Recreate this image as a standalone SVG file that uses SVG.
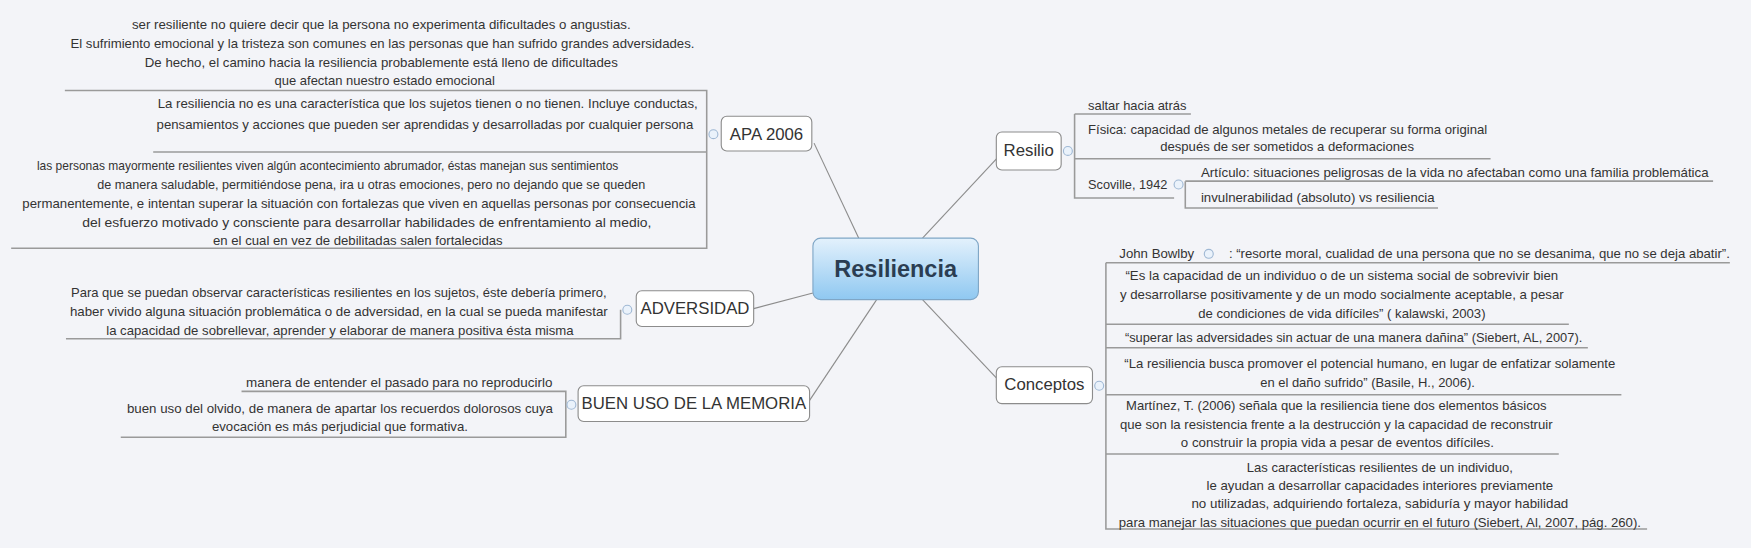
<svg xmlns="http://www.w3.org/2000/svg" width="1751" height="548" viewBox="0 0 1751 548">
<style>
.t{font-family:"Liberation Sans",Arial,sans-serif;font-size:12px;fill:#333;dominant-baseline:central}
.n{font-family:"Liberation Sans",Arial,sans-serif;font-size:15px;fill:#333;dominant-baseline:central;text-anchor:middle}
.ln{fill:none;stroke:#8c8c8c;stroke-width:1}
.br{fill:none;stroke:#9a9a9a;stroke-width:1.4}
.box{fill:#fff;stroke:#8c8c8c;stroke-width:1}
.c{fill:#eaf2fb;stroke:#9fb8d4;stroke-width:1}
</style>
<defs>
<linearGradient id="g" x1="0" y1="0" x2="0" y2="1"><stop offset="0" stop-color="#e3f1fc"/><stop offset="1" stop-color="#8fc8f1"/></linearGradient>
</defs>
<rect width="1751" height="548" fill="#f3f4f8"/>
<g transform="scale(1.1182)">
<g id="connectors">
<line class="ln" x1="768" y1="213" x2="728" y2="128"/>
<line class="ln" x1="727" y1="262" x2="674" y2="276"/>
<line class="ln" x1="784" y1="268" x2="724" y2="358"/>
<line class="ln" x1="825" y1="213" x2="893" y2="140"/>
<line class="ln" x1="825" y1="268" x2="891" y2="338"/>
<path class="br" d="M58 81H632V222H10M137 136H632"/>
<path class="br" d="M59 303H555V277"/>
<path class="br" d="M216 350H506V391H108"/>
<path class="br" d="M961 102H1065M961 102V177H1050M961 142H1333"/>
<path class="br" d="M1060 162H1532M1060 162V186H1286"/>
<path class="br" d="M989 235H1547M989 235V473H1473M989 290H1403M989 311H1420M989 353H1450M989 406H1394"/>
<circle class="c" cx="638" cy="120" r="4"/><circle class="c" cx="561" cy="277" r="4"/><circle class="c" cx="511" cy="362" r="4"/>
<circle class="c" cx="955" cy="135" r="4"/><circle class="c" cx="1054" cy="165" r="4"/><circle class="c" cx="983" cy="345" r="4"/><circle class="c" cx="1081" cy="227" r="4"/>
</g>
<g id="central"><rect x="727" y="213" width="148" height="55" rx="7" fill="url(#g)" stroke="#7fa6c6"/><text x="801" y="241" class="n" style="font-size:21px;font-weight:bold;fill:#2b3d52">Resiliencia</text></g>
<g id="apa"><rect class="box" x="645" y="104" width="81" height="31" rx="5"/><text class="n" x="685.5" y="120">APA 2006</text>
<text class="t" text-anchor="middle" x="341" y="22" textLength="446" lengthAdjust="spacingAndGlyphs">ser resiliente no quiere decir que la persona no experimenta dificultades o angustias.</text>
<text class="t" text-anchor="middle" x="342" y="39" textLength="558" lengthAdjust="spacingAndGlyphs">El sufrimiento emocional y la tristeza son comunes en las personas que han sufrido grandes adversidades.</text>
<text class="t" text-anchor="middle" x="341" y="56" textLength="423" lengthAdjust="spacingAndGlyphs">De hecho, el camino hacia la resiliencia probablemente está lleno de dificultades</text>
<text class="t" text-anchor="middle" x="344" y="72" textLength="197" lengthAdjust="spacingAndGlyphs">que afectan nuestro estado emocional</text>
<text class="t" text-anchor="end" x="624" y="93" textLength="483" lengthAdjust="spacingAndGlyphs">La resiliencia no es una característica que los sujetos tienen o no tienen. Incluye conductas,</text>
<text class="t" text-anchor="end" x="620" y="111" textLength="480" lengthAdjust="spacingAndGlyphs">pensamientos y acciones que pueden ser aprendidas y desarrolladas por cualquier persona</text>
<text class="t" text-anchor="middle" x="293" y="148" textLength="520" lengthAdjust="spacingAndGlyphs">las personas mayormente resilientes viven algún acontecimiento abrumador, éstas manejan sus sentimientos</text>
<text class="t" text-anchor="middle" x="332" y="165" textLength="490" lengthAdjust="spacingAndGlyphs">de manera saludable, permitiéndose pena, ira u otras emociones, pero no dejando que se queden</text>
<text class="t" text-anchor="middle" x="321" y="182" textLength="602" lengthAdjust="spacingAndGlyphs">permanentemente, e intentan superar la situación con fortalezas que viven en aquellas personas por consecuencia</text>
<text class="t" text-anchor="middle" x="328" y="199" textLength="509" lengthAdjust="spacingAndGlyphs">del esfuerzo motivado y consciente para desarrollar habilidades de enfrentamiento al medio,</text>
<text class="t" text-anchor="middle" x="320" y="215" textLength="259" lengthAdjust="spacingAndGlyphs">en el cual en vez de debilitadas salen fortalecidas</text>
</g>
<g id="adversidad"><rect class="box" x="569" y="260" width="105" height="32" rx="5"/><text class="n" x="621.5" y="276">ADVERSIDAD</text>
<text class="t" text-anchor="middle" x="303" y="262" textLength="479" lengthAdjust="spacingAndGlyphs">Para que se puedan observar características resilientes en los sujetos, éste debería primero,</text>
<text class="t" text-anchor="middle" x="303" y="279" textLength="481" lengthAdjust="spacingAndGlyphs">haber vivido alguna situación problemática o de adversidad, en la cual se pueda manifestar</text>
<text class="t" text-anchor="middle" x="304" y="296" textLength="418" lengthAdjust="spacingAndGlyphs">la capacidad de sobrellevar, aprender y elaborar de manera positiva ésta misma</text>
</g>
<g id="memoria"><rect class="box" x="517" y="345" width="207" height="32" rx="5"/><text class="n" x="620.5" y="361">BUEN USO DE LA MEMORIA</text>
<text class="t" text-anchor="end" x="494" y="342" textLength="274" lengthAdjust="spacingAndGlyphs">manera de entender el pasado para no reproducirlo</text>
<text class="t" text-anchor="middle" x="304" y="365" textLength="381" lengthAdjust="spacingAndGlyphs">buen uso del olvido, de manera de apartar los recuerdos dolorosos cuya</text>
<text class="t" text-anchor="middle" x="304" y="381" textLength="229" lengthAdjust="spacingAndGlyphs">evocación es más perjudicial que formativa.</text>
</g>
<g id="resilio"><rect class="box" x="891" y="118" width="58" height="34" rx="5"/><text class="n" x="920" y="135">Resilio</text>
<text class="t" x="973" y="94" textLength="88" lengthAdjust="spacingAndGlyphs">saltar hacia atrás</text>
<text class="t" x="973" y="116" textLength="357" lengthAdjust="spacingAndGlyphs">Física: capacidad de algunos metales de recuperar su forma original</text>
<text class="t" text-anchor="middle" x="1151" y="131" textLength="227" lengthAdjust="spacingAndGlyphs">después de ser sometidos a deformaciones</text>
<text class="t" x="973" y="165" textLength="71" lengthAdjust="spacingAndGlyphs">Scoville, 1942</text>
<text class="t" x="1074" y="154" textLength="454" lengthAdjust="spacingAndGlyphs">Artículo: situaciones peligrosas de la vida no afectaban como una familia problemática</text>
<text class="t" x="1074" y="177" textLength="209" lengthAdjust="spacingAndGlyphs">invulnerabilidad (absoluto) vs resiliencia</text>
</g>
<g id="conceptos"><rect class="box" x="891" y="328" width="86" height="33" rx="5"/><text class="n" x="934" y="344">Conceptos</text>
<text class="t" x="1001" y="227" textLength="67" lengthAdjust="spacingAndGlyphs">John Bowlby</text>
<text class="t" x="1099" y="227" textLength="448" lengthAdjust="spacingAndGlyphs">: “resorte moral, cualidad de una persona que no se desanima, que no se deja abatir”.</text>
<text class="t" text-anchor="middle" x="1200" y="246" textLength="387" lengthAdjust="spacingAndGlyphs">“Es la capacidad de un individuo o de un sistema social de sobrevivir bien</text>
<text class="t" text-anchor="middle" x="1200" y="263" textLength="397" lengthAdjust="spacingAndGlyphs">y desarrollarse positivamente y de un modo socialmente aceptable, a pesar</text>
<text class="t" text-anchor="middle" x="1200" y="280" textLength="257" lengthAdjust="spacingAndGlyphs">de condiciones de vida difíciles” ( kalawski, 2003)</text>
<text class="t" x="1006" y="302" textLength="409" lengthAdjust="spacingAndGlyphs">“superar las adversidades sin actuar de una manera dañina” (Siebert, AL, 2007).</text>
<text class="t" text-anchor="middle" x="1225" y="325" textLength="439" lengthAdjust="spacingAndGlyphs">“La resiliencia busca promover el potencial humano, en lugar de enfatizar solamente</text>
<text class="t" text-anchor="middle" x="1223" y="342" textLength="192" lengthAdjust="spacingAndGlyphs">en el daño sufrido” (Basile, H., 2006).</text>
<text class="t" text-anchor="middle" x="1195" y="363" textLength="376" lengthAdjust="spacingAndGlyphs">Martínez, T. (2006) señala que la resiliencia tiene dos elementos básicos</text>
<text class="t" text-anchor="middle" x="1195" y="380" textLength="387" lengthAdjust="spacingAndGlyphs">que son la resistencia frente a la destrucción y la capacidad de reconstruir</text>
<text class="t" text-anchor="middle" x="1196" y="396" textLength="280" lengthAdjust="spacingAndGlyphs">o construir la propia vida a pesar de eventos difíciles.</text>
<text class="t" text-anchor="middle" x="1234" y="418" textLength="238" lengthAdjust="spacingAndGlyphs">Las características resilientes de un individuo,</text>
<text class="t" text-anchor="middle" x="1234" y="434" textLength="310" lengthAdjust="spacingAndGlyphs">le ayudan a desarrollar capacidades interiores previamente</text>
<text class="t" text-anchor="middle" x="1234" y="450" textLength="337" lengthAdjust="spacingAndGlyphs">no utilizadas, adquiriendo fortaleza, sabiduría y mayor habilidad</text>
<text class="t" text-anchor="middle" x="1234" y="467" textLength="467" lengthAdjust="spacingAndGlyphs">para manejar las situaciones que puedan ocurrir en el futuro (Siebert, Al, 2007, pág. 260).</text>
</g>
</g>
</svg>
